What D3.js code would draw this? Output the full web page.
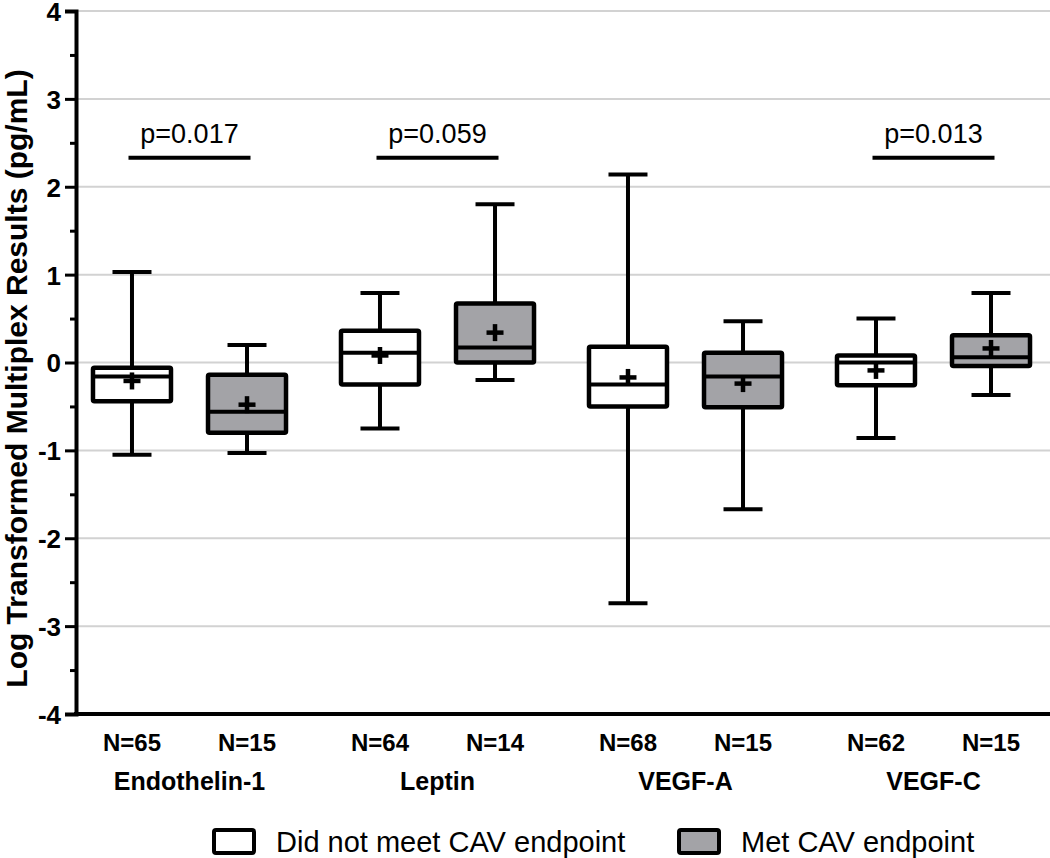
<!DOCTYPE html>
<html>
<head>
<meta charset="utf-8">
<script src="https://cdn.jsdelivr.net/npm/d3@7"></script>
<style>
  html, body { margin: 0; padding: 0; background: #fff; }
  svg { display: block; font-family: "Liberation Sans", Arial, sans-serif; }
</style>
</head>
<body>
<svg id="chart" width="1050" height="858"></svg>
<script>
// ---- data ----
const categories = ["Endothelin-1", "Leptin", "VEGF-A", "VEGF-C"];
const groups = ["Did not meet CAV endpoint", "Met CAV endpoint"];
const nCounts = [[65, 15], [64, 14], [68, 15], [62, 15]];
// [lowWhisker, q1, median, q3, highWhisker, mean]
const statsNotMet = [
  [-1.05, -0.44, -0.16, -0.06, 1.03, -0.21],
  [-0.75, -0.25, 0.11, 0.36, 0.79, 0.08],
  [-2.74, -0.50, -0.25, 0.18, 2.14, -0.17],
  [-0.86, -0.26, 0.00, 0.08, 0.50, -0.09]
];
const statsMet = [
  [-1.03, -0.80, -0.56, -0.14, 0.20, -0.48],
  [-0.20, 0.00, 0.17, 0.67, 1.80, 0.34],
  [-1.67, -0.51, -0.16, 0.11, 0.47, -0.24],
  [-0.37, -0.04, 0.06, 0.31, 0.79, 0.16]
];
const pValues = [
  { category: "Endothelin-1", label: "p=0.017" },
  { category: "Leptin", label: "p=0.059" },
  { category: "VEGF-C", label: "p=0.013" }
];
const bracketLevel = 2.33;
const yTicks = [-4, -3, -2, -1, 0, 1, 2, 3, 4];
const yMinorTicks = [-3.5, -2.5, -1.5, -0.5, 0.5, 1.5, 2.5, 3.5];
const fills = ["#ffffff", "#a3a3a7"];

// ---- layout ----
const svg = d3.select("#chart");
const axisX = 76, plotRight = 1050, plotTop = 11, plotBottom = 714;

const y = d3.scaleLinear().domain([-4, 4]).range([plotBottom, plotTop]);
const xGroup = d3.scaleBand().domain(categories).range([65.5, 1057.5]).padding(0);
const xSub = d3.scalePoint().domain(groups).range([0, xGroup.bandwidth()]).padding(0.578);

const boxW = 78, capW = 39, plusW = 17;

// gridlines
svg.append("g").selectAll("line").data(yTicks).join("line")
  .attr("x1", axisX).attr("x2", plotRight)
  .attr("y1", d => y(d)).attr("y2", d => y(d))
  .attr("stroke", "#d2d2d2").attr("stroke-width", 2);

// y axis
const yAxis = d3.axisLeft(y).tickValues(yTicks).tickFormat(d => String(d)).tickSize(11).tickPadding(4);
const gy = svg.append("g").attr("transform", `translate(${axisX},0)`).call(yAxis);
gy.attr("font-family", null).attr("font-size", null);
gy.select(".domain").attr("stroke", "#000").attr("stroke-width", 4);
gy.selectAll(".tick line").attr("stroke", "#000").attr("stroke-width", 3);
gy.selectAll(".tick text").attr("font-size", 26).attr("font-weight", "bold").attr("fill", "#000")
  .attr("dy", "0.36em");
const yMinor = d3.axisLeft(y).tickValues(yMinorTicks).tickSize(6).tickFormat("");
const gym = svg.append("g").attr("transform", `translate(${axisX},0)`).call(yMinor);
gym.select(".domain").remove();
gym.selectAll(".tick line").attr("stroke", "#000").attr("stroke-width", 3);

// x axis line
svg.append("line").attr("x1", axisX - 2).attr("x2", plotRight)
  .attr("y1", y(-4)).attr("y2", y(-4)).attr("stroke", "#000").attr("stroke-width", 4);

// y axis title
svg.append("text")
  .attr("transform", `translate(27,${(plotTop + plotBottom) / 2 + 16}) rotate(-90)`)
  .attr("text-anchor", "middle")
  .attr("font-size", 30).attr("font-weight", "bold")
  .text("Log Transformed Multiplex Results (pg/mL)");

// boxes
const allStats = [statsNotMet, statsMet];
const boxes = [];
categories.forEach((c, ci) => {
  groups.forEach((g, gi) => {
    const s = allStats[gi][ci];
    boxes.push({ c, g, gi, lo: s[0], q1: s[1], med: s[2], q3: s[3], hi: s[4], mean: s[5], n: nCounts[ci][gi] });
  });
});
const cx = d => xGroup(d.c) + xSub(d.g);

const bg = svg.append("g").selectAll("g").data(boxes).join("g");
bg.append("line").attr("x1", cx).attr("x2", cx)
  .attr("y1", d => y(d.hi)).attr("y2", d => y(d.lo))
  .attr("stroke", "#000").attr("stroke-width", 4);
["hi", "lo"].forEach(k => {
  bg.append("line")
    .attr("x1", d => cx(d) - capW / 2).attr("x2", d => cx(d) + capW / 2)
    .attr("y1", d => y(d[k])).attr("y2", d => y(d[k]))
    .attr("stroke", "#000").attr("stroke-width", 4);
});
bg.append("rect")
  .attr("x", d => cx(d) - boxW / 2).attr("width", boxW)
  .attr("y", d => y(d.q3)).attr("height", d => y(d.q1) - y(d.q3))
  .attr("fill", d => fills[d.gi]).attr("stroke", "#000").attr("stroke-width", 4.5)
  .attr("rx", 1.5);
bg.append("line")
  .attr("x1", d => cx(d) - boxW / 2).attr("x2", d => cx(d) + boxW / 2)
  .attr("y1", d => y(d.med)).attr("y2", d => y(d.med))
  .attr("stroke", "#000").attr("stroke-width", 4);
bg.append("line")
  .attr("x1", d => cx(d) - plusW / 2).attr("x2", d => cx(d) + plusW / 2)
  .attr("y1", d => y(d.mean)).attr("y2", d => y(d.mean))
  .attr("stroke", "#000").attr("stroke-width", 4.5);
bg.append("line")
  .attr("x1", cx).attr("x2", cx)
  .attr("y1", d => y(d.mean) - plusW / 2).attr("y2", d => y(d.mean) + plusW / 2)
  .attr("stroke", "#000").attr("stroke-width", 4.5);

// N labels
svg.append("g").selectAll("text").data(boxes).join("text")
  .attr("x", cx).attr("y", 751)
  .attr("text-anchor", "middle").attr("font-size", 24).attr("font-weight", "bold")
  .text(d => "N=" + d.n);

// category labels
svg.append("g").selectAll("text").data(categories).join("text")
  .attr("x", d => xGroup(d) + xGroup.bandwidth() / 2).attr("y", 790)
  .attr("text-anchor", "middle").attr("font-size", 25).attr("font-weight", "bold")
  .text(d => d);

// p-value brackets
const pg = svg.append("g").selectAll("g").data(pValues).join("g");
pg.append("line")
  .attr("x1", d => xGroup(d.category) + xGroup.bandwidth() / 2 - 61)
  .attr("x2", d => xGroup(d.category) + xGroup.bandwidth() / 2 + 61)
  .attr("y1", y(bracketLevel)).attr("y2", y(bracketLevel))
  .attr("stroke", "#000").attr("stroke-width", 4);
pg.append("text")
  .attr("x", d => xGroup(d.category) + xGroup.bandwidth() / 2)
  .attr("y", y(bracketLevel) - 15)
  .attr("text-anchor", "middle").attr("font-size", 27)
  .text(d => d.label);

// legend
const legendX = [214, 679];
const lg = svg.append("g").selectAll("g").data(groups).join("g")
  .attr("transform", (d, i) => `translate(${legendX[i]},830)`);
lg.append("rect").attr("x", 0).attr("y", 0).attr("width", 40).attr("height", 23)
  .attr("rx", 2).attr("fill", (d, i) => fills[i]).attr("stroke", "#000").attr("stroke-width", 4);
lg.append("text").attr("x", 62).attr("y", 22).attr("font-size", 29).text(d => d);
</script>
</body>
</html>
